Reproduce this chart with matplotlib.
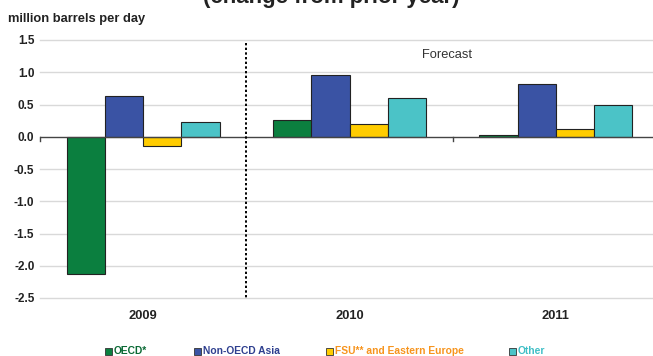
"""World oil consumption growth by region, 2009-2011 (change from prior year)."""

import matplotlib
matplotlib.use("Agg")
import matplotlib.pyplot as plt
import numpy as np
from matplotlib.patches import Rectangle

plt.rcParams["font.family"] = ["Liberation Sans", "DejaVu Sans"]

years = ["2009", "2010", "2011"]
regions = ["OECD*", "Non-OECD Asia", "FSU** and Eastern Europe", "Other"]
oecd = [-2.13, 0.26, 0.02]
non_oecd_asia = [0.63, 0.96, 0.82]
fsu_eastern_europe = [-0.15, 0.19, 0.12]
other = [0.23, 0.60, 0.49]
yticks = [1.5, 1.0, 0.5, 0.0, -0.5, -1.0, -1.5, -2.0, -2.5]

bar_colors = ["#0b7f3f", "#3a53a4", "#ffcc00", "#4bc3c7"]
text_colors = ["#0b6a35", "#2e3f8f", "#f7941d", "#3fbfc6"]

W, H = 653, 356
fig = plt.figure(figsize=(W / 100, H / 100), dpi=100)
ax = fig.add_axes([40 / W, 1 - 298 / H, 619 / W, 258 / H])

series = [oecd, non_oecd_asia, fsu_eastern_europe, other]
centers = np.arange(len(years)) + 0.5
bw = 0.185
for i, (vals, col) in enumerate(zip(series, bar_colors)):
    ax.bar(centers + (i - 1.5) * bw, vals, width=bw, color=col,
           edgecolor="#222222", linewidth=0.8, zorder=3)

ax.set_xlim(0, 3)
ax.set_ylim(-2.5, 1.5)
ax.set_yticks(yticks)
ax.set_yticklabels([f"{v:.1f}" for v in yticks], fontsize=8.5,
                   fontweight="bold", color="#222222")
ax.tick_params(axis="y", length=0, pad=4)
for v in yticks:
    if v != 0:
        ax.axhline(v, color="#d9d9d9", linewidth=1.0, zorder=1, clip_on=False)
ax.axhline(0, color="#444444", linewidth=1.0, zorder=4)

# category boundary ticks hang below the zero line
for xb in [0, 2]:
    ax.plot([xb, xb], [0, -0.07], color="#444444", linewidth=1.0, zorder=4,
            clip_on=False)

ax.set_xticks([])
for s in ax.spines.values():
    s.set_visible(False)

for c, yr in zip(centers, years):
    ax.text(c, -2.78, yr, ha="center", va="center", fontsize=9.3,
            fontweight="bold", color="#222222")

# forecast divider
ax.plot([1, 1], [1.46, -2.5], color="black", linewidth=1.4,
        linestyle=(0, (1.2, 1.2)), zorder=5, clip_on=False)
ax.text(1.85, 1.26, "Forecast", fontsize=9.3, color="#333333", ha="left",
        va="center")

fig.text(8 / W, 1 - 19 / H, "million barrels per day", fontsize=9.3,
         fontweight="bold", color="#222222", va="center", ha="left")
fig.text(331 / W, 1 - 3 / H, "(change from prior year)", fontsize=16,
         fontweight="bold", color="#222222", va="baseline", ha="center")

# legend
leg_x = [105, 194, 326, 509]
for x0, label, col, tcol in zip(leg_x, regions, bar_colors, text_colors):
    fig.patches.append(Rectangle((x0 / W, 1 - 354.5 / H), 7 / W, 7 / H,
                                 transform=fig.transFigure, facecolor=col,
                                 edgecolor="#333333", linewidth=0.6))
    fig.text((x0 + 9) / W, 1 - 351 / H, label, fontsize=7.4,
             fontweight="bold", color=tcol, va="center", ha="left")

fig.savefig("out.png", dpi=100)
